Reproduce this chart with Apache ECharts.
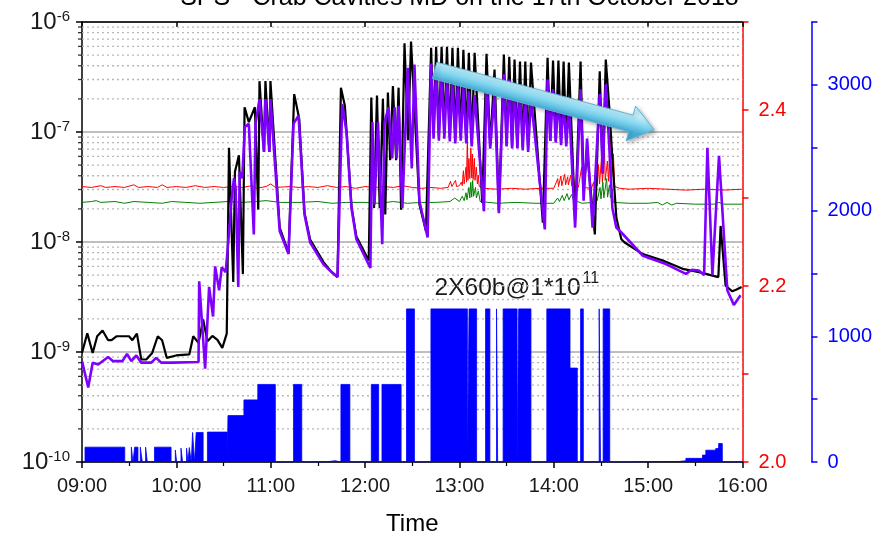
<!DOCTYPE html>
<html><head><meta charset="utf-8">
<script src="https://cdn.jsdelivr.net/npm/echarts@6/dist/echarts.min.js"></script>
<style>html,body{margin:0;padding:0;background:#fff}#c{width:875px;height:541px}</style>
</head><body><div id="c"></div>
<script>
const FONT = '"Liberation Sans", Arial, sans-serif';
const titleText = 'SPS - Crab Cavities MD on the 17th October 2018';
const annotationMain = '2X60b@1*10';
const annotationSup = '11';
const timeLabels = ['09:00','10:00','11:00','12:00','13:00','14:00','15:00','16:00'];
const decadeExponents = [-10,-9,-8,-7,-6];
const minorMultipliers = [2,3,4,5,6,7,8,9];
const redLabels = ['2.0','2.2','2.4'];
const blueLabels = ['0','1000','2000','3000'];
const arrowFrom = [12.737, 3.63e-7];
const arrowTo = [15.063, 1.05e-7];
const titleAnchor = [13.0, 1e-6];
const annotationAnchor = [12.737, 2.4e-9];

// black gauge [hour, pressure]
const blackPoints = [[9.000,0.98e-9],[9.056,1.48e-9],[9.113,0.98e-9],[9.161,1.39e-9],[9.218,1.57e-9],[9.277,1.28e-9],[9.313,1.28e-9],[9.365,1.39e-9],[9.498,1.39e-9],[9.534,1.28e-9],[9.582,1.47e-9],[9.628,0.855e-9],[9.681,0.855e-9],[9.744,0.98e-9],[9.803,1.39e-9],[9.849,1.28e-9],[9.898,0.885e-9],[9.997,0.93e-9],[10.137,0.95e-9],[10.179,1.39e-9],[10.235,1.21e-9],[10.284,1.98e-9],[10.329,1.25e-9],[10.382,1.4e-9],[10.435,1.29e-9],[10.487,1.09e-9],[10.534,1.47e-9],[10.558,7.2e-8],[10.603,4.33e-9],[10.621,4.36e-8],[10.663,6.15e-8],[10.705,5.13e-9],[10.723,1.68e-7],[10.768,1.23e-7],[10.832,1.68e-7],[10.868,1.97e-8],[10.881,2.9e-7],[10.929,6.6e-8],[10.944,2.9e-7],[10.986,6.6e-8],[10.997,2.9e-7],[11.095,1.35e-8],[11.189,8.0e-9],[11.249,2.21e-7],[11.302,1.32e-7],[11.358,1.85e-8],[11.418,1.05e-8],[11.558,6.6e-9],[11.645,5.32e-9],[11.708,4.8e-9],[11.744,2.53e-7],[11.786,1.73e-7],[11.856,2.1e-8],[11.908,1.12e-8],[12.039,6.8e-9],[12.066,2.06e-7],[12.095,2.04e-8],[12.126,2.15e-7],[12.155,2.04e-8],[12.189,2.0e-7],[12.214,1.78e-8],[12.242,2.29e-7],[12.266,5.55e-8],[12.295,2.62e-7],[12.329,5.55e-8],[12.355,2.53e-7],[12.382,1.97e-8],[12.418,6.4e-7],[12.456,8.4e-8],[12.487,6.65e-7],[12.576,2.19e-8],[12.645,1.26e-8],
[12.700,5.84e-7],[12.726,9.6e-8],[12.753,5.96e-7],[12.782,9.2e-8],[12.811,5.96e-7],[12.840,9.6e-8],[12.868,5.96e-7],[12.898,9.0e-8],[12.926,5.84e-7],[12.956,8.6e-8],[12.984,5.84e-7],[13.014,9.0e-8],[13.042,5.6e-7],[13.072,8.6e-8],[13.100,5.26e-7],[13.130,8.0e-8],[13.161,5.26e-7],[13.242,2.27e-8],[13.287,5.15e-7],[13.326,7.5e-8],[13.372,3.7e-7],[13.418,1.9e-8],
[13.471,5.05e-7],[13.500,7.6e-8],[13.528,4.84e-7],[13.558,7.4e-8],[13.584,4.55e-7],[13.614,7.2e-8],[13.642,4.37e-7],[13.671,7.2e-8],[13.698,4.37e-7],[13.728,7.0e-8],[13.758,4.28e-7],[13.884,1.5e-8],
[13.934,4.74e-7],[13.963,8.3e-8],[13.992,4.46e-7],[14.021,8.3e-8],[14.049,4.46e-7],[14.077,8.0e-8],[14.104,4.37e-7],[14.132,7.9e-8],[14.160,4.28e-7],[14.226,1.58e-8],[14.284,4.37e-7],[14.316,3.07e-8],[14.353,6.6e-8],[14.435,1.17e-8],[14.487,3.57e-7],[14.519,4.2e-8],[14.551,4.55e-7],[14.589,1.62e-7],[14.621,5.75e-8],[14.663,1.66e-8],[14.716,1.06e-8],[14.751,0.99e-8],[14.944,7.77e-9],[15.155,6.78e-9],[15.365,5.7e-9],[15.540,5.32e-9],[15.744,4.8e-9],[15.768,1.4e-8],[15.821,4.0e-9],[15.892,3.56e-9],[15.937,3.7e-9],[15.990,3.9e-9]];

// purple gauge [hour, pressure]
const purplePoints = [[9.000,0.826e-9],[9.066,0.475e-9],[9.113,0.80e-9],[9.172,0.77e-9],[9.277,0.90e-9],[9.329,0.826e-9],[9.428,0.826e-9],[9.477,0.96e-9],[9.523,0.826e-9],[9.576,0.93e-9],[9.628,0.80e-9],[9.734,0.80e-9],[9.786,0.885e-9],[9.839,0.80e-9],[9.961,0.80e-9],[10.235,0.81e-9],[10.242,4.4e-9],[10.305,0.705e-9],[10.347,3.9e-9],[10.389,2.1e-9],[10.411,6.0e-9],[10.453,3.64e-9],[10.481,5.9e-9],[10.523,5.32e-9],[10.551,1.02e-8],[10.586,2.51e-8],[10.611,3.8e-8],[10.628,3.1e-8],[10.656,3.9e-9],[10.671,4.36e-8],[10.698,3.8e-8],[10.726,1.11e-7],[10.768,1.19e-7],[10.821,1.17e-8],[10.839,1.19e-7],[10.881,1.99e-7],[10.929,6.6e-8],[10.944,1.99e-7],[10.986,6.6e-8],[10.997,1.99e-7],[11.095,1.26e-8],[11.189,7.77e-9],[11.242,1.19e-7],[11.295,1.41e-7],[11.358,1.78e-8],[11.418,0.99e-8],[11.558,6.3e-9],[11.628,5.5e-9],[11.708,4.8e-9],[11.758,1.8e-7],[11.803,1.0e-7],[11.856,2.04e-8],[11.908,1.06e-8],[12.056,5.81e-9],[12.077,1.23e-7],[12.100,2.19e-8],[12.137,1.23e-7],[12.182,9.55e-9],[12.207,1.23e-7],[12.249,1.68e-7],[12.287,5.75e-8],[12.313,1.68e-7],[12.334,5.75e-8],[12.355,1.73e-7],[12.395,2.04e-8],[12.453,3.84e-7],[12.495,4.67e-8],[12.523,4.1e-7],[12.576,2.34e-8],[12.663,1.1e-8],
[12.700,4.19e-7],[12.726,8.7e-8],[12.753,3.7e-7],[12.782,8.33e-8],[12.811,3.34e-7],[12.840,8.7e-8],[12.868,3.14e-7],[12.898,8.2e-8],[12.926,2.89e-7],[12.956,7.86e-8],[12.984,2.71e-7],[13.014,8.33e-8],[13.042,2.55e-7],[13.072,7.86e-8],[13.100,2.35e-7],[13.130,7.4e-8],[13.161,2.17e-7],[13.260,1.9e-8],[13.287,3.0e-7],[13.326,7.07e-8],[13.372,2.21e-7],[13.418,1.83e-8],
[13.471,3.34e-7],[13.500,7.4e-8],[13.528,3.0e-7],[13.558,7.07e-8],[13.584,2.71e-7],[13.614,7.07e-8],[13.642,2.45e-7],[13.671,6.8e-8],[13.698,2.21e-7],[13.728,6.6e-8],[13.758,2.0e-7],[13.905,1.3e-8],
[13.934,3.0e-7],[13.963,8.3e-8],[13.992,2.45e-7],[14.021,8.0e-8],[14.049,2.21e-7],[14.077,7.6e-8],[14.104,2.0e-7],[14.132,7.4e-8],[14.160,1.8e-7],[14.226,1.35e-8],[14.284,2.45e-7],[14.316,2.37e-8],[14.353,8.7e-8],[14.411,1.35e-8],[14.487,2.21e-7],[14.519,4.2e-8],[14.551,2.71e-7],[14.589,7.07e-8],[14.621,2.04e-8],[14.663,1.35e-8],[14.716,1.22e-8],[14.944,7.5e-9],[15.189,6.3e-9],[15.400,5.13e-9],[15.463,5.6e-9],[15.537,5.5e-9],[15.593,5.0e-9],[15.628,7.2e-8],[15.681,5.0e-9],[15.751,6.08e-8],[15.839,3.64e-9],[15.908,2.67e-9],[15.979,3.28e-9]];

// red signal [hour, value]
const redPoints = [[9.00,2.313],[9.10,2.312],[9.20,2.314],[9.25,2.312],[9.35,2.313],[9.45,2.312],[9.55,2.315],[9.60,2.312],[9.70,2.313],[9.80,2.312],[9.85,2.315],[9.90,2.312],[10.00,2.313],[10.10,2.312],[10.20,2.314],[10.30,2.312],[10.40,2.313],[10.50,2.312],[10.60,2.313],[10.70,2.312],[10.80,2.314],[10.85,2.311],[10.95,2.313],[11.00,2.316],[11.05,2.312],[11.20,2.313],[11.30,2.312],[11.40,2.313],[11.50,2.312],[11.60,2.314],[11.70,2.312],[11.80,2.313],[11.90,2.311],[12.00,2.313],[12.10,2.312],[12.20,2.313],[12.30,2.312],[12.40,2.314],[12.50,2.312],[12.60,2.311],[12.70,2.312],[12.80,2.311],[12.88,2.312],
[12.905,2.319],[12.92,2.313],[12.958,2.320],[12.97,2.313],[13.00,2.314],[13.02,2.318],[13.03,2.314],[13.042,2.331],[13.05,2.316],[13.07,2.335],[13.075,2.318],[13.084,2.372],[13.09,2.320],[13.10,2.345],[13.11,2.322],[13.121,2.357],[13.13,2.323],[13.137,2.350],[13.145,2.321],[13.158,2.345],[13.165,2.320],[13.179,2.335],[13.19,2.316],[13.20,2.326],[13.21,2.313],[13.25,2.311],[13.40,2.310],[13.55,2.311],[13.70,2.310],[13.85,2.311],[14.00,2.311],
[14.042,2.322],[14.05,2.313],[14.075,2.325],[14.085,2.314],[14.116,2.327],[14.125,2.315],[14.147,2.324],[14.155,2.315],[14.179,2.326],[14.19,2.314],[14.211,2.323],[14.22,2.313],[14.26,2.312],[14.295,2.335],[14.305,2.312],[14.40,2.311],
[14.421,2.318],[14.43,2.312],[14.453,2.330],[14.46,2.314],[14.474,2.338],[14.485,2.316],[14.505,2.345],[14.515,2.318],[14.537,2.355],[14.545,2.320],[14.568,2.342],[14.58,2.319],[14.60,2.372],[14.61,2.322],[14.632,2.350],[14.645,2.313],[14.70,2.311],[14.80,2.310],[15.00,2.311],[15.20,2.310],[15.40,2.309],[15.60,2.310],[15.80,2.309],[16.00,2.310]];

// green signal [hour, value]
const greenPoints = [[9.00,2.295],[9.10,2.296],[9.15,2.297],[9.20,2.295],[9.35,2.296],[9.45,2.294],[9.55,2.296],[9.70,2.295],[9.85,2.294],[9.95,2.296],[10.10,2.295],[10.25,2.294],[10.40,2.295],[10.55,2.296],[10.70,2.295],[10.85,2.296],[10.95,2.297],[11.10,2.295],[11.30,2.295],[11.50,2.296],[11.65,2.294],[11.80,2.295],[12.00,2.295],[12.15,2.294],[12.30,2.296],[12.45,2.294],[12.60,2.295],[12.75,2.295],[12.90,2.296],[12.95,2.300],[13.00,2.296],[13.03,2.302],[13.05,2.297],[13.07,2.306],[13.08,2.298],[13.10,2.312],[13.11,2.300],[13.12,2.318],[13.13,2.301],[13.14,2.320],[13.15,2.302],[13.17,2.312],[13.18,2.300],[13.20,2.308],[13.22,2.296],[13.40,2.294],[13.60,2.295],[13.80,2.294],[14.00,2.294],[14.04,2.300],[14.06,2.296],[14.09,2.303],[14.11,2.297],[14.14,2.305],[14.16,2.298],[14.19,2.304],[14.21,2.297],[14.25,2.296],[14.30,2.294],[14.42,2.295],[14.45,2.306],[14.46,2.297],[14.49,2.312],[14.50,2.299],[14.52,2.318],[14.53,2.300],[14.56,2.322],[14.57,2.301],[14.59,2.315],[14.60,2.300],[14.62,2.310],[14.63,2.295],[14.80,2.294],[15.00,2.294],[15.10,2.295],[15.15,2.292],[15.20,2.295],[15.25,2.292],[15.30,2.294],[15.50,2.293],[15.70,2.293],[15.75,2.295],[15.80,2.293],[16.00,2.293]];

// beam intensity segments [start hour, end hour, intensity]
const intensitySegments = [[9.032,9.453,118],[9.523,9.540,118],[9.558,9.593,118],[9.618,9.639,118],[9.674,9.692,118],[9.768,9.944,118],[9.989,10.003,95],[10.049,10.066,110],[10.108,10.123,110],[10.137,10.158,115],[10.172,10.193,235],[10.210,10.284,235],[10.329,10.540,238],[10.547,10.716,369],[10.716,10.863,494],[10.863,11.049,617],[11.242,11.329,617],[11.579,11.684,10],[11.744,11.839,617],[12.066,12.144,617],[12.179,12.382,617],[12.439,12.523,1218],[12.698,13.084,1218],[13.102,13.182,1218],[13.277,13.323,1218],[13.393,13.405,1218],[13.463,13.611,1218],[13.628,13.758,1218],[13.926,14.172,1218],[14.172,14.249,747],[14.284,14.313,1218],[14.481,14.495,1218],[14.523,14.593,1218],[14.785,15.326,4],[15.326,15.400,10],[15.400,15.576,29],[15.576,15.611,55],[15.611,15.716,94],[15.716,15.747,107],[15.747,15.786,147]];

const chart = echarts.init(document.getElementById('c'), null, {renderer: 'canvas'});

const minorValues = [];
decadeExponents.slice(0, -1).forEach(e => minorMultipliers.forEach(m => minorValues.push(m * Math.pow(10, e))));
// dotted minor grid rows, drawn through the log axis as broken line segments
const minorGridData = [];
minorValues.forEach(v => { minorGridData.push([9, v]); minorGridData.push([16, v]); minorGridData.push([16, '-']); });

const blueData = [[9, 0]];
intensitySegments.forEach(s => { blueData.push([s[0], s[2]]); blueData.push([s[1], 0]); });
blueData.push([16, 0]);

const option = {
  animation: false,
  textStyle: {fontFamily: FONT},
  grid: {left: 82, right: 129, top: 22, bottom: 74, containLabel: false},
  xAxis: [{
    type: 'value', min: 9, max: 16, interval: 1, position: 'bottom',
    axisLine: {onZero: false, lineStyle: {color: '#000', width: 1.5}},
    axisTick: {length: 6, lineStyle: {color: '#000', width: 1.5}},
    minorTick: {show: true, splitNumber: 2, length: 4, lineStyle: {color: '#000', width: 1.2}},
    axisLabel: {formatter: v => timeLabels[Math.round(v - 9)], fontSize: 20, color: '#1a1a1a', margin: 14, fontFamily: FONT},
    splitLine: {show: false},
    name: 'Time', nameLocation: 'middle', nameGap: 50,
    nameTextStyle: {fontSize: 24, color: '#000', fontFamily: FONT}
  }, {
    type: 'value', min: 9, max: 16, interval: 1, position: 'top',
    axisLine: {onZero: false, lineStyle: {color: '#000', width: 1.5}},
    axisTick: {inside: true, length: 5, lineStyle: {color: '#000', width: 1.5}},
    axisLabel: {show: false}, splitLine: {show: false}
  }],
  yAxis: [{
    type: 'log', logBase: 10, min: 1e-10, max: 1e-6, position: 'left',
    axisLine: {show: true, onZero: false, lineStyle: {color: '#000', width: 1.5}},
    axisTick: {show: true, length: 6, lineStyle: {color: '#000', width: 1.5}},
    axisLabel: {
      margin: 12, color: '#1a1a1a', fontFamily: FONT,
      formatter: v => {
        const e = Math.round(Math.log10(v));
        return decadeExponents.indexOf(e) >= 0 ? '{b|10}{s|' + e + '}' : '';
      },
      rich: {
        b: {fontSize: 24, lineHeight: 26, fontFamily: FONT, color: '#1a1a1a'},
        s: {fontSize: 15, lineHeight: 15, verticalAlign: 'top', fontFamily: FONT, color: '#1a1a1a'}
      }
    },
    splitLine: {show: true, lineStyle: {color: '#a8a8a8', width: 1.5}}
  }, {
    type: 'value', min: 2.0, max: 2.5, interval: 0.1, position: 'right', offset: 0,
    axisLine: {show: true, onZero: false, lineStyle: {color: '#ff0000', width: 1.5}},
    axisTick: {show: true, length: 6, lineStyle: {color: '#ff0000', width: 1.5}},
    axisLabel: {
      color: '#ff0000', fontSize: 20, margin: 16, fontFamily: FONT,
      formatter: v => { const s = v.toFixed(1); return redLabels.indexOf(s) >= 0 ? s : ''; }
    },
    splitLine: {show: false}
  }, {
    type: 'value', min: 0, max: 3500, interval: 500, position: 'right', offset: 69,
    axisLine: {show: true, onZero: false, lineStyle: {color: '#0000ff', width: 1.5}},
    axisTick: {show: true, length: 6, lineStyle: {color: '#0000ff', width: 1.5}},
    axisLabel: {
      color: '#0000ff', fontSize: 20, margin: 16, fontFamily: FONT,
      formatter: v => { const s = String(Math.round(v)); return blueLabels.indexOf(s) >= 0 ? s : ''; }
    },
    splitLine: {show: false}
  }],
  series: [{
    name: 'minorGrid', type: 'line', xAxisIndex: 0, yAxisIndex: 0, z: 1,
    data: minorGridData, showSymbol: false, silent: true, connectNulls: false,
    lineStyle: {color: '#b8b8b8', width: 1.3, type: [2, 3]}
  }, {
    name: 'Intensity', type: 'line', xAxisIndex: 0, yAxisIndex: 2, z: 2,
    step: 'end', data: blueData, showSymbol: false, silent: true,
    lineStyle: {color: '#0000ff', width: 0.8},
    areaStyle: {color: '#0000ff', opacity: 1}
  }, {
    name: 'Red', type: 'line', xAxisIndex: 0, yAxisIndex: 1, z: 3,
    data: redPoints, showSymbol: false, silent: true,
    lineStyle: {color: '#ff0000', width: 1}
  }, {
    name: 'Green', type: 'line', xAxisIndex: 0, yAxisIndex: 1, z: 3,
    data: greenPoints, showSymbol: false, silent: true,
    lineStyle: {color: '#008000', width: 1}
  }, {
    name: 'Black', type: 'line', xAxisIndex: 0, yAxisIndex: 0, z: 4,
    data: blackPoints, showSymbol: false, silent: true,
    lineStyle: {color: '#000000', width: 2.2}
  }, {
    name: 'Purple', type: 'line', xAxisIndex: 0, yAxisIndex: 0, z: 5,
    data: purplePoints, showSymbol: false, silent: true,
    lineStyle: {color: '#8000ff', width: 2.6}
  }, {
    name: 'minorTicks', type: 'scatter', xAxisIndex: 0, yAxisIndex: 0, z: 6,
    data: minorValues.map(v => [9, v]), symbol: 'rect', symbolSize: [4, 1.3],
    symbolOffset: [-2, 0], clip: false, silent: true, itemStyle: {color: '#000'}
  }]
};
chart.setOption(option);

// annotations
const p0 = chart.convertToPixel({seriesIndex: 4}, arrowFrom);
const p1 = chart.convertToPixel({seriesIndex: 4}, arrowTo);
const dx = p1[0] - p0[0], dy = p1[1] - p0[1];
const len = Math.sqrt(dx * dx + dy * dy);
const d = [dx / len, dy / len];
const n = [-d[1], d[0]];
const w1 = 8.5, w2 = 18, hl = 24;
const base = [p1[0] - d[0] * hl, p1[1] - d[1] * hl];
const pt = (p, k) => [p[0] + n[0] * k, p[1] + n[1] * k];
const arrowPts = [pt(p0, -w1), pt(base, -w1), pt(base, -w2), p1, pt(base, w2), pt(base, w1), pt(p0, w1)];
const mid = [(p0[0] + p1[0]) / 2, (p0[1] + p1[1]) / 2];
const g0 = pt(mid, -w1), g1 = pt(mid, w1);

const titlePx = chart.convertToPixel({seriesIndex: 4}, titleAnchor);
const annPx = chart.convertToPixel({seriesIndex: 4}, annotationAnchor);

chart.setOption({
  graphic: [{
    type: 'text', x: titlePx[0], y: -2, silent: true,
    style: {text: titleText, font: '25px ' + FONT, fill: '#000', textAlign: 'center', textVerticalAlign: 'middle'}
  }, {
    type: 'text', x: annPx[0], y: 288, silent: true,
    style: {text: annotationMain, font: '24.5px ' + FONT, fill: '#1a1a1a', textAlign: 'left', textVerticalAlign: 'middle'}
  }, {
    type: 'text', x: annPx[0] + 148, y: 279, silent: true,
    style: {text: annotationSup, font: '16px ' + FONT, fill: '#1a1a1a', textAlign: 'left', textVerticalAlign: 'middle'}
  }, {
    type: 'polygon', silent: true, z: 100,
    shape: {points: arrowPts},
    style: {
      fill: new echarts.graphic.LinearGradient(g0[0], g0[1], g1[0], g1[1], [
        {offset: 0, color: '#c4f0fc'}, {offset: 0.5, color: '#7fd4ef'}, {offset: 1, color: '#45aad3'}
      ], true),
      stroke: '#5ab6d8', lineWidth: 1,
      shadowBlur: 4, shadowColor: 'rgba(0,0,0,0.3)', shadowOffsetX: 2, shadowOffsetY: 2
    }
  }]
});
</script>
</body></html>
